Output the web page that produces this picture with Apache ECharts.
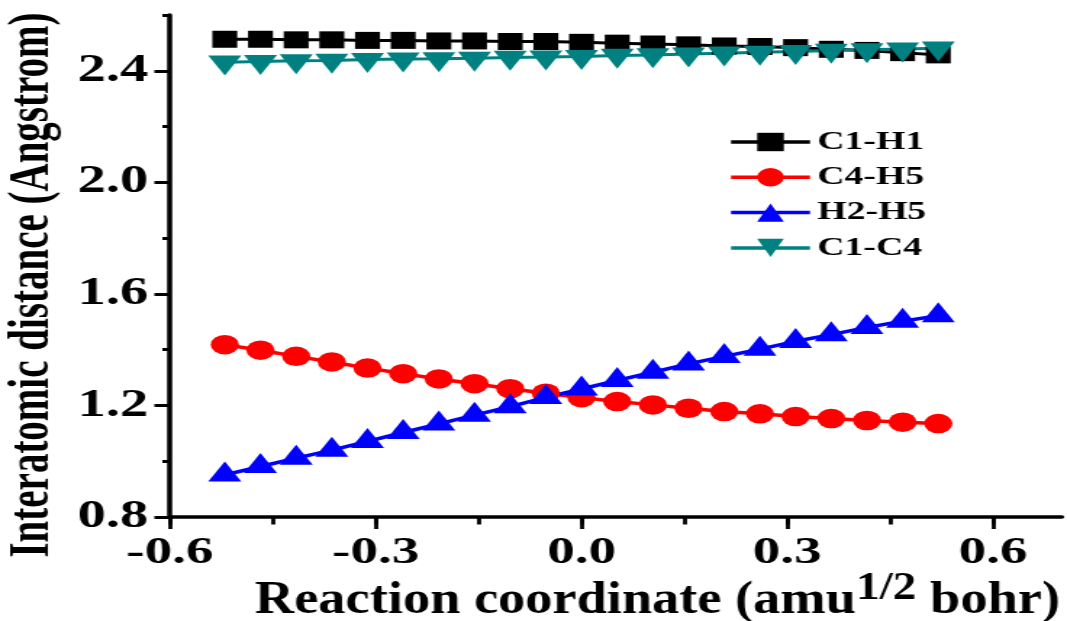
<!DOCTYPE html>
<html>
<head>
<meta charset="utf-8">
<script src="https://cdn.jsdelivr.net/npm/echarts@6/dist/echarts.min.js"></script>
<style>
html,body{margin:0;padding:0;background:#fff;overflow:hidden;}
#wrap{width:1067px;height:621px;overflow:hidden;position:relative;}
#chart{width:736px;height:621px;transform:scaleX(1.4497);transform-origin:0 0;}
</style>
</head>
<body>
<div id="wrap"><div id="chart"></div></div>
<script>
// Reaction coordinate (amu^1/2 bohr)
const reactionCoord = [-0.52,-0.468,-0.416,-0.364,-0.312,-0.26,-0.208,-0.156,-0.104,-0.052,0,0.052,0.104,0.156,0.208,0.26,0.312,0.364,0.416,0.468,0.52];
// Interatomic distances (Angstrom)
const c1h1 = [2.513,2.513,2.511,2.511,2.509,2.509,2.507,2.507,2.505,2.505,2.502,2.499,2.496,2.493,2.489,2.487,2.483,2.477,2.473,2.465,2.457];
const c4h5 = [1.418,1.398,1.376,1.356,1.334,1.314,1.295,1.278,1.260,1.244,1.228,1.214,1.202,1.190,1.178,1.170,1.160,1.153,1.146,1.140,1.135];
const h2h5 = [0.951,0.981,1.011,1.040,1.071,1.103,1.134,1.165,1.196,1.229,1.259,1.290,1.319,1.349,1.376,1.402,1.430,1.454,1.480,1.502,1.522];
const c1c4 = [2.431,2.433,2.436,2.437,2.440,2.442,2.443,2.445,2.448,2.449,2.451,2.455,2.457,2.460,2.463,2.466,2.469,2.473,2.475,2.478,2.481];
const seriesNames = ['C1-H1','C4-H5','H2-H5','C1-C4'];
const xMajorTicks = [-0.6,-0.3,0.0,0.3,0.6];
const xAllTicks = [-0.6,-0.45,-0.3,-0.15,0.0,0.15,0.3,0.45,0.6];
const yMajorTicks = [0.8,1.2,1.6,2.0,2.4];
const yMinorTicks = [1.0,1.4,1.8,2.2,2.6];
const xTitleParts = ['Reaction coordinate (amu', '1/2', ' bohr)'];
const yTitle = 'Interatomic distance (Angstrom)';

const FONT = '"Liberation Serif","Times New Roman",serif';
function pairs(ys){ return ys.map((y,i)=>[reactionCoord[i], y]); }

// measure the x-title pieces so they can be laid out as one line with a superscript
const MAIN_FS = 46, SUP_FS = 40;
const mctx = document.createElement('canvas').getContext('2d');
function textW(t, fs){ mctx.font = 'bold ' + fs + 'px ' + FONT; return mctx.measureText(t).width; }
const w1 = textW(xTitleParts[0], MAIN_FS), w2 = textW(xTitleParts[1], SUP_FS), w3 = textW(xTitleParts[2], MAIN_FS);
const totalW = w1 + w2 + w3;
const titleInnerWidth = 555.3, titleCenter = 453.5;
const titleScale = titleInnerWidth / totalW;
const titleLeft = titleCenter - totalW * titleScale / 2;

const chart = echarts.init(document.getElementById('chart'), null, {renderer:'canvas'});
const axisLineStyle = {color:'#000', width:3.5};
const gridBox = {left:117.2, right:3.6, top:15, bottom:104, containLabel:false, outerBoundsMode:'none'};
chart.setOption({
  animation:false,
  backgroundColor:'#fff',
  grid:[Object.assign({}, gridBox), Object.assign({}, gridBox)],
  legend:{
    orient:'vertical', left:497.5, top:124, itemWidth:54.5, itemHeight:23, itemGap:9.3,
    data:seriesNames,
    lineStyle:{width:3.5},
    textStyle:{fontFamily:FONT, fontWeight:'bold', fontSize:26, color:'#000', lineHeight:23}
  },
  graphic:[{
    type:'group', x:titleLeft, y:0, scaleX:titleScale, silent:true,
    children:[
      {type:'text', x:0, y:601.5, style:{text:xTitleParts[0], fontFamily:FONT, fontWeight:'bold', fontSize:MAIN_FS, fill:'#000', align:'left', verticalAlign:'middle'}},
      {type:'text', x:w1, y:588.5, style:{text:xTitleParts[1], fontFamily:FONT, fontWeight:'bold', fontSize:SUP_FS, fill:'#000', align:'left', verticalAlign:'middle'}},
      {type:'text', x:w1 + w2, y:601.5, style:{text:xTitleParts[2], fontFamily:FONT, fontWeight:'bold', fontSize:MAIN_FS, fill:'#000', align:'left', verticalAlign:'middle'}}
    ]
  }],
  xAxis:[{
    gridIndex:0, type:'value', min:-0.6, max:0.7, position:'bottom',
    axisLine:{show:true, onZero:false, lineStyle:axisLineStyle},
    axisTick:{show:true, inside:false, length:7.5, customValues:xAllTicks, lineStyle:{color:'#000', width:2.8}},
    axisLabel:{show:true, customValues:xMajorTicks, margin:17, fontFamily:FONT, fontWeight:'bold', fontSize:38, color:'#000',
      formatter:v=>v.toFixed(1)},
    splitLine:{show:false}
  },{
    gridIndex:1, type:'value', min:-0.6, max:0.7, position:'bottom',
    axisLine:{show:false, onZero:false},
    axisTick:{show:true, inside:false, length:12, customValues:xMajorTicks, lineStyle:{color:'#000', width:2.8}},
    axisLabel:{show:false}, splitLine:{show:false}
  }],
  yAxis:[{
    gridIndex:0, type:'value', min:0.8, max:2.6, position:'left',
    name:yTitle, nameLocation:'middle', nameGap:62, nameRotate:90,
    nameTextStyle:{fontFamily:FONT, fontWeight:'bold', fontSize:39, color:'#000', padding:[0,38,0,0]},
    axisLine:{show:true, onZero:false, lineStyle:axisLineStyle},
    axisTick:{show:true, inside:false, length:10.7, customValues:yMajorTicks, lineStyle:{color:'#000', width:3}},
    axisLabel:{show:true, customValues:yMajorTicks, margin:15, fontFamily:FONT, fontWeight:'bold', fontSize:39, color:'#000',
      formatter:v=>v.toFixed(1)},
    splitLine:{show:false}
  },{
    gridIndex:1, type:'value', min:0.8, max:2.6, position:'left',
    axisLine:{show:false, onZero:false},
    axisTick:{show:true, inside:false, length:5.2, customValues:yMinorTicks, lineStyle:{color:'#000', width:3}},
    axisLabel:{show:false}, splitLine:{show:false}
  }],
  series:[
    {name:seriesNames[0], type:'line', xAxisIndex:0, yAxisIndex:0, data:pairs(c1h1), symbol:'rect', symbolSize:[17.2,17],
     itemStyle:{color:'#000000'}, lineStyle:{color:'#000000', width:3}},
    {name:seriesNames[1], type:'line', xAxisIndex:0, yAxisIndex:0, data:pairs(c4h5), symbol:'circle', symbolSize:[19.5,19.5],
     itemStyle:{color:'#ff0000'}, lineStyle:{color:'#ff0000', width:3.5}},
    {name:seriesNames[2], type:'line', xAxisIndex:0, yAxisIndex:0, data:pairs(h2h5), symbol:'triangle', symbolSize:[22.8,20], symbolOffset:[0,-3.4],
     itemStyle:{color:'#0000ff'}, lineStyle:{color:'#0000ff', width:3.5}},
    {name:seriesNames[3], type:'line', xAxisIndex:0, yAxisIndex:0, data:pairs(c1c4), symbol:'path://M0,0L2,0L1,1.732Z', symbolSize:[22.8,20], symbolOffset:[0,3.4],
     itemStyle:{color:'#008080'}, lineStyle:{color:'#008080', width:3}}
  ]
});
</script>
</body>
</html>
